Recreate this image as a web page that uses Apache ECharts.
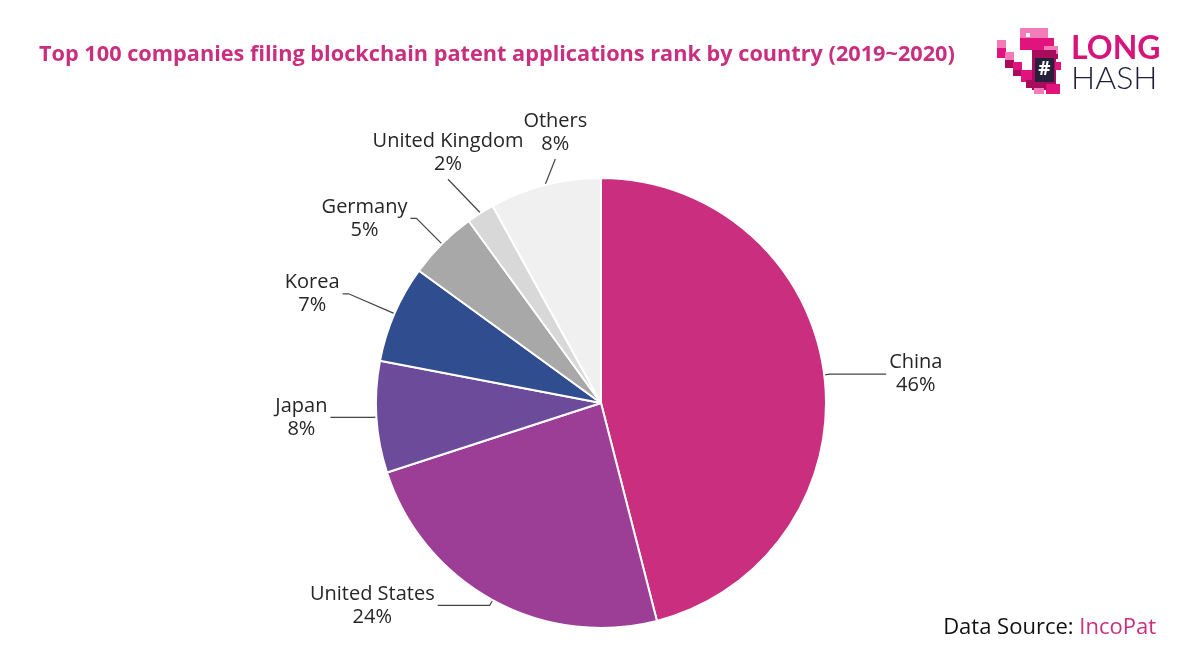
<!DOCTYPE html>
<html>
<head>
<meta charset="utf-8">
<title>Blockchain patent applications by country</title>
<script src="https://cdn.jsdelivr.net/npm/echarts@6/dist/echarts.min.js"></script>
<style>
  html, body { margin: 0; padding: 0; background: #fff; }
  #chart { width: 1200px; height: 668px; }
</style>
</head>
<body>
<div id="chart"></div>
<script>
// ---- data ----
const countries = ['China', 'United States', 'Japan', 'Korea', 'Germany', 'United Kingdom', 'Others'];
const shares = [46, 24, 8, 7, 5, 2, 8];

// ---- style ----
const sliceColors = ['#C92F7E', '#9C3D96', '#6C4B9A', '#2F4D8F', '#A8A8A8', '#D8D8D8', '#F0F0F0'];
// label line: [radial length, horizontal length]
const lineLens = {
  'China': [6, 56], 'United States': [6, 52], 'Japan': [4, 42], 'Korea': [50, 6],
  'Germany': [36, 6], 'United Kingdom': [40, 0], 'Others': [27, 0]
};
// labels sitting above their line, with a small sideways nudge
const labelsAbove = { 'United Kingdom': -11, 'Others': 17 };
const FONT = '"Open Sans", Lato, sans-serif';

const chart = echarts.init(document.getElementById('chart'), null, { renderer: 'canvas' });

const pieData = countries.map((name, i) => ({
  name,
  value: shares[i],
  itemStyle: { color: sliceColors[i] },
  labelLine: { length: lineLens[name][0], length2: lineLens[name][1] }
}));

// block-style logo (rough dinosaur + word mark)
const pink = '#E0147C', pinkLight = '#F27BB8', pinkDark = '#A90C5C';
function blk(x, y, w, h, fill) {
  return { type: 'rect', shape: { x, y, width: w, height: h }, style: { fill } };
}
const logo = [
  // back / tail steps
  blk(997, 40, 9, 8, pinkLight), blk(997, 48, 9, 10, pink),
  blk(1005, 52, 9, 10, pinkLight), blk(1005, 60, 9, 8, pinkDark),
  blk(1013, 62, 9, 10, pink), blk(1013, 70, 9, 6, pinkDark),
  blk(1021, 70, 12, 12, pink), blk(1026, 80, 10, 8, pinkDark),
  // head
  blk(1020, 28, 28, 10, pinkLight), blk(1020, 38, 34, 12, pink),
  blk(1044, 46, 14, 8, pinkLight), blk(1044, 54, 14, 5, pinkDark),
  blk(1026, 33, 4, 4, '#ffffff'),
  // body
  blk(1032, 50, 24, 40, pinkDark), blk(1035, 58, 19, 24, '#26203A'),
  { type: 'text', style: { x: 1044.5, y: 70, text: '#', fill: '#fff', font: 'bold 19px ' + FONT, align: 'center', verticalAlign: 'middle' } },
  // arms / legs
  blk(1055, 62, 6, 8, pink), blk(1046, 84, 14, 10, pink), blk(1034, 88, 10, 6, pinkLight),
  // word mark
  { type: 'text', style: { x: 1071, y: 49, text: 'LONG', fill: '#D6147C', font: 'bold 32px Lato, sans-serif', verticalAlign: 'middle' } },
  { type: 'text', style: { x: 1071, y: 79, text: 'HASH', fill: '#1E1E3C', font: '300 32px Lato, sans-serif', verticalAlign: 'middle' } }
];

chart.setOption({
  backgroundColor: '#ffffff',
  animation: false,
  title: {
    text: 'Top 100 companies filing blockchain patent applications rank by country (2019~2020)',
    left: 34,
    top: 39,
    textStyle: { color: '#C92F7E', fontFamily: FONT, fontWeight: 'bold', fontSize: 21.7 }
  },
  graphic: logo.concat([
    {
      type: 'text',
      right: 44,
      top: 617,
      style: {
        text: '{a|Data Source: }{b|IncoPat}',
        rich: {
          a: { fontFamily: FONT, fontSize: 22, fill: '#111', color: '#111' },
          b: { fontFamily: FONT, fontSize: 22, fill: '#C92F7E', color: '#C92F7E' }
        }
      }
    }
  ]),
  series: [{
    type: 'pie',
    center: [601, 403],
    radius: 225,
    startAngle: 90,
    clockwise: true,
    avoidLabelOverlap: false,
    data: pieData,
    itemStyle: { borderColor: '#ffffff', borderWidth: 2 },
    label: {
      show: true,
      position: 'outside',
      formatter: '{b}\n{c}%',
      fontFamily: FONT,
      fontSize: 20,
      lineHeight: 23,
      color: '#262626'
    },
    labelLine: { show: true, lineStyle: { color: '#444', width: 1.2 } },
    emphasis: { disabled: true },
    labelLayout: function (p) {
      const pts = p.labelLinePoints;
      if (!pts) return {};
      const end = pts[pts.length - 1];
      const name = countries[p.dataIndex];
      if (name in labelsAbove) {
        // straight leader from the slice edge to the label's bottom centre
        const tip = [end[0] + labelsAbove[name], end[1]];
        return { x: tip[0], y: tip[1] - 3, align: 'center', verticalAlign: 'bottom', labelLinePoints: [pts[0], tip, tip] };
      }
      const dir = end[0] >= pts[0][0] ? 1 : -1;
      return {
        x: end[0] + dir * (p.labelRect.width / 2 + 3),
        y: end[1],
        align: 'center',
        verticalAlign: 'middle',
        labelLinePoints: pts
      };
    }
  }]
});
</script>
</body>
</html>
